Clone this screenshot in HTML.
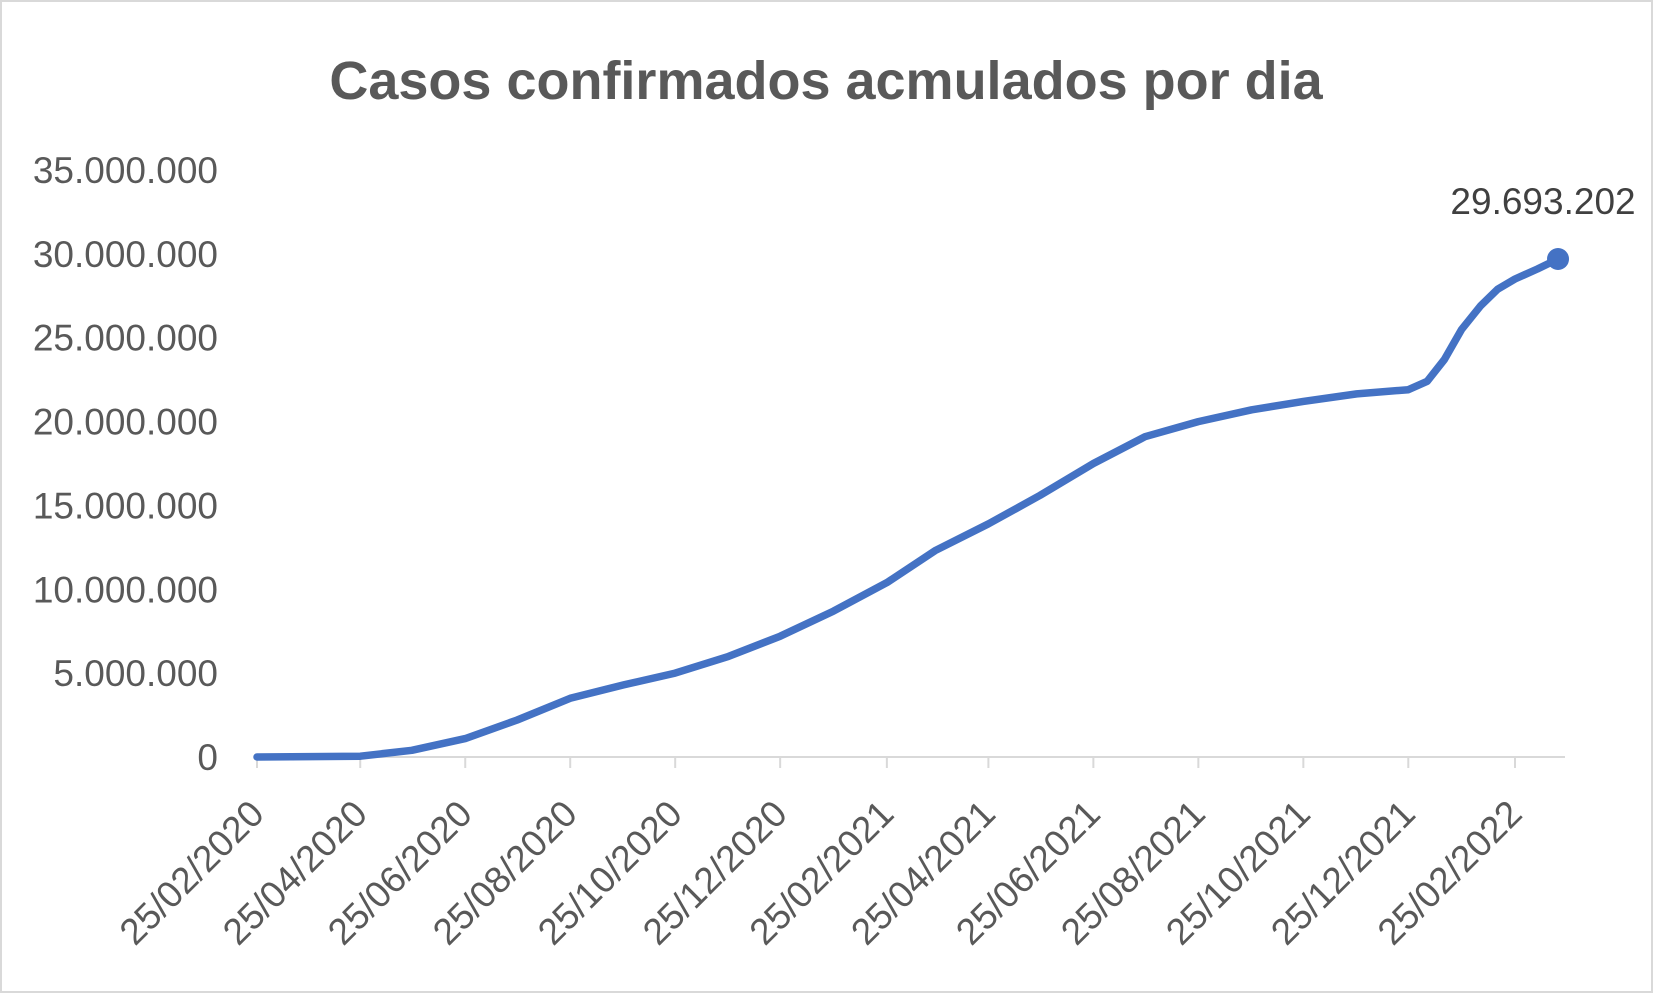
<!DOCTYPE html>
<html><head><meta charset="utf-8"><style>
html,body{margin:0;padding:0;background:#fff}
svg{display:block;font-family:"Liberation Sans",Calibri,sans-serif}
</style></head><body>
<svg id="chart" width="1653" height="993" viewBox="0 0 1653 993">
<rect x="1" y="1" width="1651" height="991" fill="#fff" stroke="#d9d9d9" stroke-width="2"/>
<text x="826" y="99" text-anchor="middle" font-size="54" font-weight="bold" fill="#595959">Casos confirmados acmulados por dia</text>
<g id="yaxis"></g>
<g id="xaxis"></g>
<g id="series"></g>
</svg>
<script>
const dates = ["2020-02-25","2020-04-25","2020-05-25","2020-06-25","2020-07-25","2020-08-25","2020-09-25","2020-10-25","2020-11-25","2020-12-25","2021-01-25","2021-02-25","2021-03-25","2021-04-25","2021-05-25","2021-06-25","2021-07-25","2021-08-25","2021-09-25","2021-10-25","2021-11-25","2021-12-25","2022-01-05","2022-01-15","2022-01-25","2022-02-05","2022-02-15","2022-02-25","2022-03-10","2022-03-22"];
const cases = [0,50000,400000,1100000,2200000,3500000,4300000,5000000,6000000,7200000,8700000,10400000,12300000,13900000,15600000,17500000,19100000,20000000,20700000,21200000,21650000,21900000,22400000,23700000,25500000,26900000,27900000,28500000,29100000,29693202];
const yTicks = [0,5000000,10000000,15000000,20000000,25000000,30000000,35000000];
const xTicks = ["2020-02-25","2020-04-25","2020-06-25","2020-08-25","2020-10-25","2020-12-25","2021-02-25","2021-04-25","2021-06-25","2021-08-25","2021-10-25","2021-12-25","2022-02-25"];
const lastLabel = "29.693.202";

const NS="http://www.w3.org/2000/svg";
const d0=Date.parse("2020-02-25"), d1=Date.parse("2022-02-25");
const x = d => 257 + (Date.parse(d)-d0)/(d1-d0)*(1515-257);
const y = v => 757 - v/35000000*(757-170);
const fmt = v => v===0?"0":v.toLocaleString("de-DE");
function mk(tag,attrs,parent){const e=document.createElementNS(NS,tag);for(const k in attrs)e.setAttribute(k,attrs[k]);parent.appendChild(e);return e;}
const ya=document.getElementById("yaxis"), xa=document.getElementById("xaxis"), sg=document.getElementById("series");
yTicks.forEach(v=>{
  const t=mk("text",{x:218,y:y(v)+13,"text-anchor":"end","font-size":37,fill:"#595959"},ya);
  
  
  t.textContent=fmt(v);
});
const axl=mk("line",{x1:257,y1:757,x2:1565,y2:757,stroke:"#d9d9d9","stroke-width":2},xa);


xTicks.forEach(d=>{
  const xx=x(d);
  const tk=mk("line",{x1:xx,y1:757,x2:xx,y2:768,stroke:"#d9d9d9","stroke-width":2},xa);
  
  
  const p=d.split("-");
  const ax=xx+9, ay=816;
  const t=mk("text",{x:ax,y:ay,"text-anchor":"end","font-size":37,fill:"#595959",transform:`rotate(-45 ${ax} ${ay})`},xa);
  
  
  t.textContent=p[2]+"/"+p[1]+"/"+p[0];
});
const pts=dates.map((d,i)=>x(d).toFixed(1)+","+y(cases[i]).toFixed(1)).join(" ");
const pl=mk("polyline",{points:pts,fill:"none",stroke:"#4472c4","stroke-width":7.5,"stroke-linejoin":"round","stroke-linecap":"round"},sg);


const li=dates.length-1;
const c=mk("circle",{cx:x(dates[li]),cy:y(cases[li]),r:11,fill:"#4472c4"},sg);


const lb=mk("text",{x:x(dates[li])-15,y:y(cases[li])-45,"text-anchor":"middle","font-size":37,fill:"#404040"},sg);


lb.textContent=lastLabel;
</script>
</body></html>
